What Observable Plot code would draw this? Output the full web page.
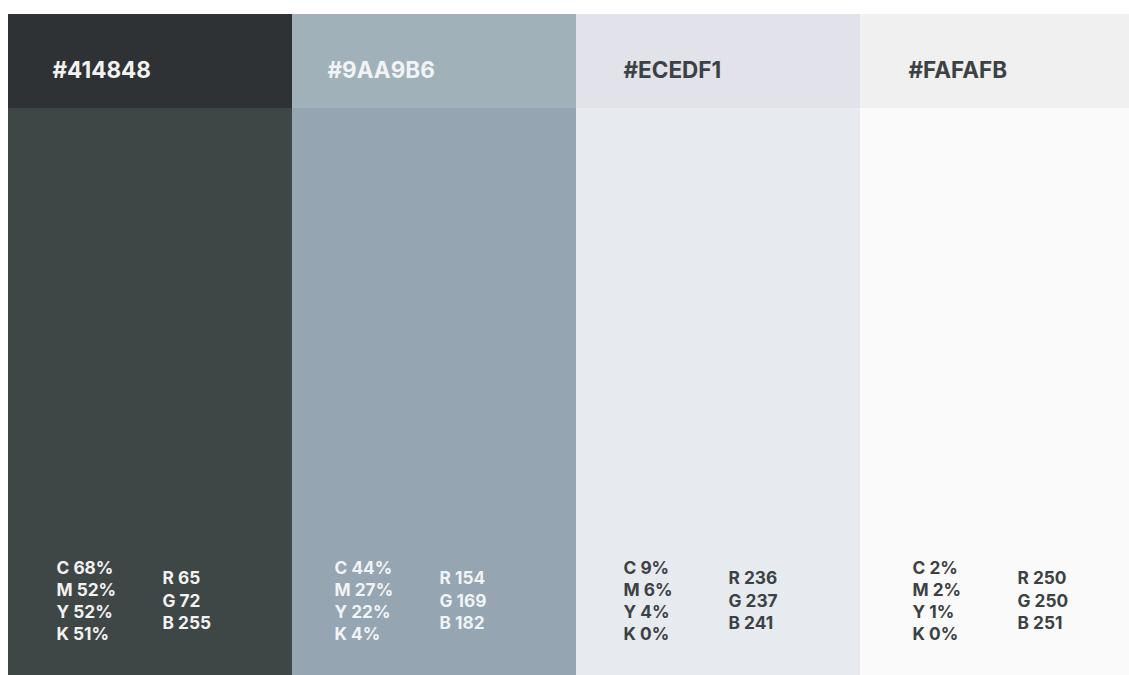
<!DOCTYPE html>
<html>
<head>
<meta charset="utf-8">
<script src="https://cdn.jsdelivr.net/npm/d3@7"></script>
<script src="https://cdn.jsdelivr.net/npm/@observablehq/plot@0.6"></script>
<style>
  html, body { margin: 0; padding: 0; background: #ffffff; overflow: hidden; }
  #chart svg { display: block; }
</style>
</head>
<body>
<div id="chart"></div>
<script>
// ---- data ----
const hexes = ["#414848", "#9AA9B6", "#ECEDF1", "#FAFAFB"];
const cmykLetters = ["C", "M", "Y", "K"];
const cmykValues = [[68, 52, 52, 51], [44, 27, 22, 4], [9, 6, 4, 0], [2, 2, 1, 0]];
const rgbLetters = ["R", "G", "B"];
const rgbValues = [[65, 72, 255], [154, 169, 182], [236, 237, 241], [250, 250, 251]];

// ---- styles / layout (not data) ----
const headerFill = ["#2e3234", "#a1b1b9", "#e2e2ea", "#f0f0f0"];
const bodyFill = ["#3f4646", "#95a5b2", "#e7eaee", "#fafafa"];
const textFill = ["#f2f2f2", "#f1f4f6", "#3c4143", "#3c4143"];
const hexDx = [44, 35, 47, 48];
const cmykDx = [48, 42, 47, 52];
const rgbDx = [154, 147, 152, 157];
const colW = 284;
const headerH = 94;   // y units (px) below top of panels
const totalH = 661;

const panels = hexes.map((h, i) => ({hex: h, i}));

const marks = [
  Plot.barY(panels, {x: "hex", y1: 0, y2: headerH, fill: d => headerFill[d.i], inset: 0}),
  Plot.barY(panels, {x: "hex", y1: headerH, y2: totalH, fill: d => bodyFill[d.i], inset: 0})
];

hexes.forEach((h, i) => {
  marks.push(Plot.text([h], {
    x: d => d, y: 56, text: d => d, dx: hexDx[i] - colW / 2,
    textAnchor: "start", lineAnchor: "middle", fill: textFill[i],
    fontSize: 22.5, fontWeight: 700
  }));
  const cm = cmykLetters.map((l, r) => ({hex: h, label: `${l} ${cmykValues[i][r]}%`, r}));
  marks.push(Plot.text(cm, {
    x: "hex", y: d => 554 + d.r * 22, text: "label", dx: cmykDx[i] - colW / 2,
    textAnchor: "start", lineAnchor: "middle", fill: textFill[i],
    fontSize: 17.3, fontWeight: 700
  }));
  const rg = rgbLetters.map((l, r) => ({hex: h, label: `${l} ${rgbValues[i][r]}`, r}));
  marks.push(Plot.text(rg, {
    x: "hex", y: d => 564 + d.r * 22.5, text: "label", dx: rgbDx[i] - colW / 2,
    textAnchor: "start", lineAnchor: "middle", fill: textFill[i],
    fontSize: 17.3, fontWeight: 700
  }));
});

const chart = Plot.plot({
  width: 1129,
  height: 675,
  margin: 0,
  style: {fontFamily: "Inter, 'Noto Sans', sans-serif", background: "#ffffff"},
  x: {type: "band", domain: hexes, range: [8, 8 + colW * 4], padding: 0, axis: null},
  y: {type: "linear", domain: [0, totalH], range: [14, 675], axis: null},
  marks
});
document.getElementById("chart").appendChild(chart);
</script>
</body>
</html>
